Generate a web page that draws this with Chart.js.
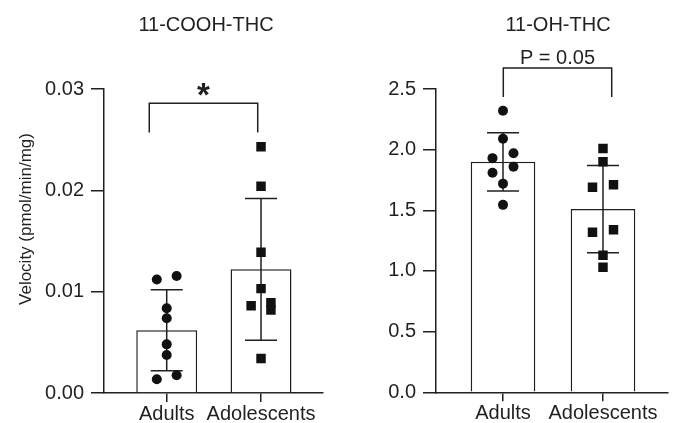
<!DOCTYPE html>
<html><head><meta charset="utf-8">
<script src="https://cdn.jsdelivr.net/npm/chart.js@4.4.1/dist/chart.umd.min.js"></script>
<style>
html,body{margin:0;padding:0;background:#fff;}
#wrap{position:relative;width:678px;height:423px;overflow:hidden;background:#fff;}
canvas{position:absolute;top:0;}
</style></head><body>
<div id="wrap">
<canvas id="c1" width="339" height="423" style="left:0"></canvas>
<canvas id="c2" width="339" height="423" style="left:339px"></canvas>
</div>
<script>
// ---- data ----
const groups = ['Adults', 'Adolescents'];

const coohTitle = '11-COOH-THC';
const coohAdults = [0.0112, 0.01155, 0.00836, 0.00737, 0.0048, 0.00375, 0.00135, 0.00175];
const coohAdolescents = [0.0243, 0.0204, 0.0139, 0.0103, 0.0089, 0.0086, 0.0082, 0.0034];
const coohMean = [0.0062, 0.0122];
const coohSD = [0.0040, 0.0070];
const coohTicks = [0, 0.01, 0.02, 0.03];
const coohTickLabels = ['0.00', '0.01', '0.02', '0.03'];
const coohBracketX = [-0.185, 0.965];
const coohBracketY = [0.0257, 0.0286];
const coohSig = '*';

const ohTitle = '11-OH-THC';
const ohAdults = [2.32, 2.09, 1.97, 1.93, 1.86, 1.81, 1.72, 1.545];
const ohAdolescents = [2.01, 1.90, 1.69, 1.71, 1.32, 1.34, 1.13, 1.03];
const ohMean = [1.90, 1.51];
const ohSD = [0.24, 0.36];
const ohTicks = [0, 0.5, 1.0, 1.5, 2.0, 2.5];
const ohTickLabels = ['0.0', '0.5', '1.0', '1.5', '2.0', '2.5'];
const ohBracketX = [0.003, 1.087];
const ohBracketY = [2.434, 2.673];
const ohSig = 'P = 0.05';

const yTitle = 'Velocity (pmol/min/mg)';

// ---- styling ----
const INK = '#231f20';
const FONT = "'Liberation Sans', Arial, Helvetica, sans-serif";

// simple beeswarm: neighbouring values that would overlap are spread left/right
function swarm(values, yMax) {
  const thr = 0.03 * yMax, h = 0.105;
  const idx = values.map((v, i) => i).sort((a, b) => values[b] - values[a]);
  const off = new Array(values.length).fill(0);
  let chain = [idx[0]];
  const flush = () => { if (chain.length > 1) chain.forEach((k, j) => { off[k] = j % 2 === 0 ? h : -h; }); };
  for (let j = 1; j < idx.length; j++) {
    if (values[idx[j - 1]] - values[idx[j]] < thr) chain.push(idx[j]);
    else { flush(); chain = [idx[j]]; }
  }
  flush();
  return off;
}

function textAtBottom(ctx, txt, x, bottom) {
  const m = ctx.measureText(txt);
  ctx.fillText(txt, x, bottom - m.actualBoundingBoxDescent);
}

function makePlugin(p) {
  return {
    id: 'annot' + p.key,
    afterDatasetDraw(chart, args) {
      if (args.index !== 0) return;
      const ctx = chart.ctx, x = chart.scales.x, y = chart.scales.y;
      ctx.save();
      ctx.strokeStyle = INK; ctx.lineWidth = 1.5;
      p.mean.forEach((m, i) => {
        const px = x.getPixelForValue(i);
        const top = y.getPixelForValue(m + p.sd[i]);
        const bot = y.getPixelForValue(m - p.sd[i]);
        ctx.beginPath();
        ctx.moveTo(px, top); ctx.lineTo(px, bot);
        ctx.moveTo(px - 16, top); ctx.lineTo(px + 16, top);
        ctx.moveTo(px - 16, bot); ctx.lineTo(px + 16, bot);
        ctx.stroke();
      });
      ctx.restore();
    },
    afterDraw(chart) {
      const ctx = chart.ctx, x = chart.scales.x, y = chart.scales.y;
      ctx.save();
      ctx.strokeStyle = INK; ctx.lineWidth = 1.5; ctx.fillStyle = INK;
      // bracket
      const x0 = x.getPixelForValue(p.bx[0]), x1 = x.getPixelForValue(p.bx[1]);
      const yl = y.getPixelForValue(p.by[0]), yt = y.getPixelForValue(p.by[1]);
      ctx.beginPath();
      ctx.moveTo(x0, yl); ctx.lineTo(x0, yt); ctx.lineTo(x1, yt); ctx.lineTo(x1, yl);
      ctx.stroke();
      ctx.textAlign = 'center'; ctx.textBaseline = 'alphabetic';
      ctx.font = p.sigFont;
      textAtBottom(ctx, p.sig, (x0 + x1) / 2, yt - p.sigGap);
      // panel title
      ctx.font = '20px ' + FONT;
      ctx.fillText(p.title, p.titleX, 31);
      // y title
      if (p.yTitle) {
        ctx.font = '17px ' + FONT;
        ctx.translate(31, (chart.chartArea.top + chart.chartArea.bottom) / 2 - 22);
        ctx.rotate(-Math.PI / 2);
        ctx.fillText(p.yTitle, 0, 0);
      }
      ctx.restore();
    }
  };
}

function build(canvasId, p) {
  const yMax = p.ticks[p.ticks.length - 1];
  const offA = swarm(p.a, yMax), offB = swarm(p.b, yMax);
  return new Chart(document.getElementById(canvasId), {
    type: 'bar',
    data: {
      datasets: [
        { type: 'bar', label: 'mean',
          data: p.mean.map((m, i) => ({ x: i, y: m })),
          backgroundColor: '#ffffff', borderColor: INK, borderWidth: 1.5,
          categoryPercentage: 1, barPercentage: 0.646, order: 2 },
        { type: 'scatter', label: groups[0],
          data: p.a.map((v, i) => ({ x: 0 + offA[i], y: v })),
          pointStyle: 'circle', pointRadius: 5, backgroundColor: '#111', borderWidth: 0, order: 1 },
        { type: 'scatter', label: groups[1],
          data: p.b.map((v, i) => ({ x: 1 + offB[i], y: v })),
          pointStyle: 'rect', pointRadius: 6.7, backgroundColor: '#111', borderWidth: 0, order: 1 }
      ]
    },
    options: {
      responsive: false, animation: false, devicePixelRatio: 1,
      layout: { padding: { top: 89, right: p.padRight, bottom: 0, left: 0 } },
      plugins: { legend: { display: false }, tooltip: { enabled: false } },
      scales: {
        x: {
          type: 'linear', min: p.xMin, max: p.xMax, offset: false,
          afterBuildTicks: s => { s.ticks = groups.map((g, i) => ({ value: i })); },
          afterFit: s => { s.height = p.xHeight; },
          ticks: { callback: v => groups[v], font: { size: 20, family: FONT }, color: INK,
                   padding: 0, maxRotation: 0, autoSkip: false },
          grid: { drawOnChartArea: false, drawTicks: true, tickLength: 9, color: INK, lineWidth: 1.5, offset: false },
          border: { display: true, color: INK, width: 1.5 }
        },
        y: {
          min: 0, max: yMax,
          afterBuildTicks: s => { s.ticks = p.ticks.map(v => ({ value: v })); },
          afterFit: s => { s.width = p.yWidth; },
          ticks: { callback: (v, i) => p.tickLabels[i], font: { size: 20, family: FONT }, color: INK, padding: 7 },
          grid: { drawOnChartArea: false, drawTicks: true, tickLength: 13, color: INK, lineWidth: 1.5 },
          border: { display: true, color: INK, width: 1.5 }
        }
      }
    },
    plugins: [makePlugin(p)]
  });
}

build('c1', {
  key: 'cooh', a: coohAdults, b: coohAdolescents, mean: coohMean, sd: coohSD,
  ticks: coohTicks, tickLabels: coohTickLabels, bx: coohBracketX, by: coohBracketY,
  sig: coohSig, sigFont: 'bold 33px ' + FONT, sigGap: 7,
  title: coohTitle, titleX: 206, yTitle: yTitle,
  xMin: -0.665, xMax: 1.654, padRight: 16.3, xHeight: 30, yWidth: 104
});
build('c2', {
  key: 'oh', a: ohAdults, b: ohAdolescents, mean: ohMean, sd: ohSD,
  ticks: ohTicks, tickLabels: ohTickLabels, bx: ohBracketX, by: ohBracketY,
  sig: ohSig, sigFont: '20px ' + FONT, sigGap: 4,
  title: ohTitle, titleX: 219, yTitle: null,
  xMin: -0.67, xMax: 1.65, padRight: 10, xHeight: 30.7, yWidth: 97
});
</script>
</body></html>
